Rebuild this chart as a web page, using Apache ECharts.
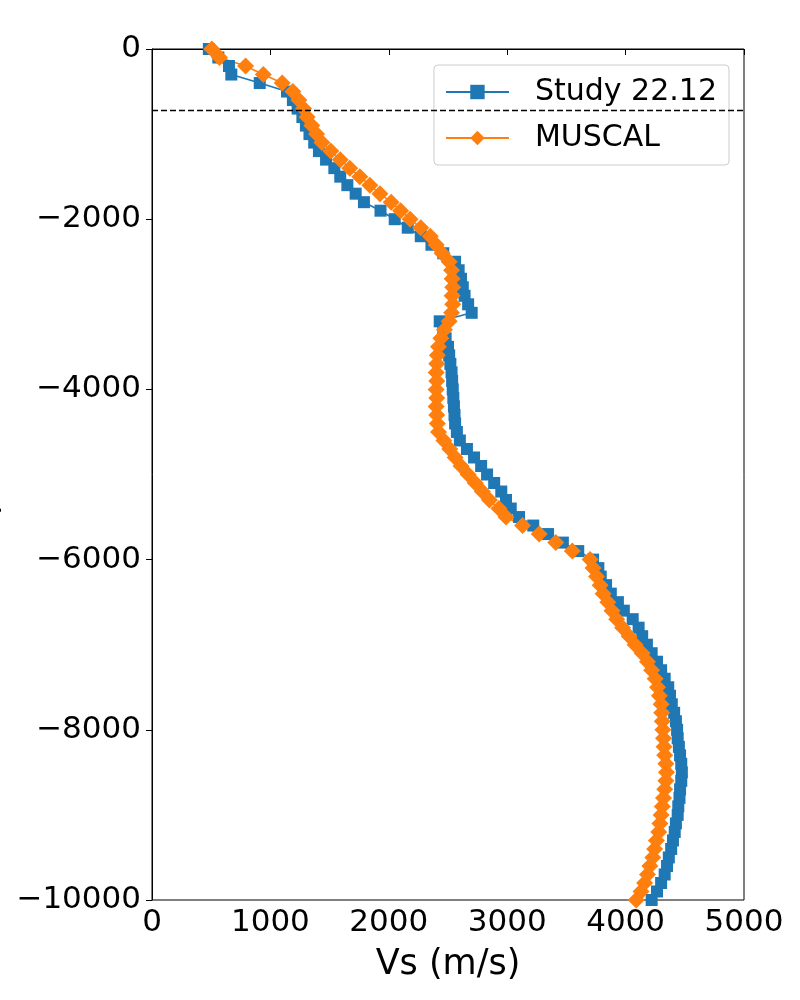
<!DOCTYPE html>
<html>
<head>
<meta charset="utf-8">
<script src="https://cdn.jsdelivr.net/npm/echarts@6/dist/echarts.min.js"></script>
<style>
  html, body { margin: 0; padding: 0; background: #fff; }
  #main { width: 800px; height: 1000px; }
</style>
</head>
<body>
<div id="main"></div>
<script>
// depth in m (negative down), one sample every 100 m
var depth = [0, -100, -200, -300, -400, -500, -600, -700, -800, -900,
    -1000, -1100, -1200, -1300, -1400, -1500, -1600, -1700, -1800, -1900,
    -2000, -2100, -2200, -2300, -2400, -2500, -2600, -2700, -2800, -2900,
    -3000, -3100, -3200, -3300, -3400, -3500, -3600, -3700, -3800, -3900,
    -4000, -4100, -4200, -4300, -4400, -4500, -4600, -4700, -4800, -4900,
    -5000, -5100, -5200, -5300, -5400, -5500, -5600, -5700, -5800, -5900,
    -6000, -6100, -6200, -6300, -6400, -6500, -6600, -6700, -6800, -6900,
    -7000, -7100, -7200, -7300, -7400, -7500, -7600, -7700, -7800, -7900,
    -8000, -8100, -8200, -8300, -8400, -8500, -8600, -8700, -8800, -8900,
    -9000, -9100, -9200, -9300, -9400, -9500, -9600, -9700, -9800, -9900,
    -10000];

// Vs (m/s) - Study 22.12
var vsStudy = [480, 560, 650, 670, 910, 1140, 1190, 1230, 1270, 1300,
    1330, 1370, 1410, 1470, 1540, 1590, 1650, 1720, 1790, 1930,
    2050, 2160, 2270, 2360, 2460, 2560, 2590, 2610, 2625, 2640,
    2670, 2700, 2430, 2460, 2480, 2500, 2510, 2520, 2530, 2535,
    2540, 2545, 2550, 2555, 2560, 2575, 2600, 2660, 2720, 2780,
    2830, 2890, 2950, 2990, 3030, 3100, 3220, 3345, 3470, 3600,
    3725, 3770, 3790, 3835, 3875, 3935, 3985, 4060, 4110, 4140,
    4180, 4220, 4265, 4300, 4330, 4360, 4375, 4390, 4410, 4425,
    4435, 4440, 4450, 4460, 4470, 4475, 4470, 4460, 4455, 4445,
    4440, 4425, 4415, 4400, 4385, 4365, 4350, 4330, 4300, 4265,
    4220];

// Vs (m/s) - MUSCAL
var vsMuscal = [505, 570, 790, 940, 1100, 1190, 1240, 1280, 1310, 1350,
    1390, 1435, 1510, 1590, 1670, 1755, 1840, 1925, 2020, 2100,
    2180, 2270, 2350, 2400, 2450, 2510, 2530, 2535, 2540, 2535,
    2540, 2530, 2510, 2470, 2440, 2420, 2410, 2405, 2400, 2405,
    2400, 2405, 2400, 2405, 2410, 2420, 2465, 2515, 2560, 2610,
    2670, 2730, 2790, 2850, 2930, 2990, 3130, 3270, 3410, 3550,
    3700, 3725, 3755, 3785, 3810, 3850, 3885, 3925, 3975, 4030,
    4080, 4140, 4185, 4220, 4250, 4270, 4285, 4300, 4305, 4310,
    4315, 4320, 4325, 4330, 4340, 4345, 4340, 4330, 4320, 4310,
    4300, 4290, 4280, 4260, 4245, 4230, 4205, 4185, 4160, 4130,
    4090];

var refDepth = -720;
var seriesNames = ['Study 22.12', 'MUSCAL'];

function pairs(vs) {
    var res = [];
    for (var i = 0; i < vs.length; i++) {
        res.push([vs[i], depth[i]]);
    }
    return res;
}

// plain numbers, unicode minus like matplotlib
function tickFmt(v) {
    return String(v).replace('-', '\u2212');
}

var dom = document.getElementById("main");
var myChart = echarts.init(dom);
var option = null;
option = {
    animation: false,
    textStyle: {fontFamily: 'DejaVu Sans'},
    grid: {
        left: 152,
        right: 56,
        top: 49,
        bottom: 100,
        show: true,
        borderColor: '#000',
        borderWidth: 1
    },
    legend: {
        right: 71,
        top: 65,
        orient: 'vertical',
        itemWidth: 63,
        itemHeight: 18,
        itemGap: 16,
        padding: [12, 12, 12, 11],
        backgroundColor: 'rgba(255,255,255,0.8)',
        borderColor: '#cccccc',
        borderWidth: 1,
        borderRadius: 4,
        data: seriesNames,
        textStyle: {
            fontSize: 30,
            color: '#000',
            padding: [0, 0, 0, 21]
        }
    },
    xAxis: {
        type: 'value',
        min: 0,
        max: 5000,
        interval: 1000,
        name: 'Vs (m/s)',
        nameLocation: 'middle',
        nameGap: 47,
        nameTextStyle: {fontSize: 35, color: '#000'},
        axisLine: {show: true, lineStyle: {color: '#000', width: 1}},
        axisTick: {show: true, length: 6, lineStyle: {color: '#000'}},
        axisLabel: {fontSize: 31, color: '#000', margin: 7, formatter: tickFmt},
        splitLine: {show: false}
    },
    yAxis: {
        type: 'value',
        min: -10000,
        max: 0,
        interval: 2000,
        axisLine: {show: true, lineStyle: {color: '#000', width: 1}},
        axisTick: {show: true, length: 6, lineStyle: {color: '#000'}},
        axisLabel: {fontSize: 31, color: '#000', margin: 11, formatter: tickFmt},
        splitLine: {show: false}
    },
    graphic: [{
        type: 'text',
        x: -15,
        y: 474,
        rotation: Math.PI / 2,
        style: {
            text: 'Depth (m)',
            fontSize: 35,
            fontFamily: 'DejaVu Sans',
            fill: '#000',
            align: 'center',
            verticalAlign: 'middle'
        }
    }],
    series: [
        {
            name: seriesNames[0],
            type: 'line',
            data: pairs(vsStudy),
            color: '#1f77b4',
            symbol: 'rect',
            symbolSize: 12,
            lineStyle: {width: 1.6},
            clip: true,
            markLine: {
                silent: true,
                symbol: 'none',
                label: {show: false},
                lineStyle: {color: '#000', type: [6, 3], width: 1.4},
                data: [{yAxis: refDepth}]
            }
        },
        {
            name: seriesNames[1],
            type: 'line',
            data: pairs(vsMuscal),
            color: '#ff7f0e',
            symbol: 'diamond',
            symbolSize: 17,
            lineStyle: {width: 1.6},
            clip: true
        }
    ]
};
if (option && typeof option === "object") {
    myChart.setOption(option, true);
}
</script>
</body>
</html>
